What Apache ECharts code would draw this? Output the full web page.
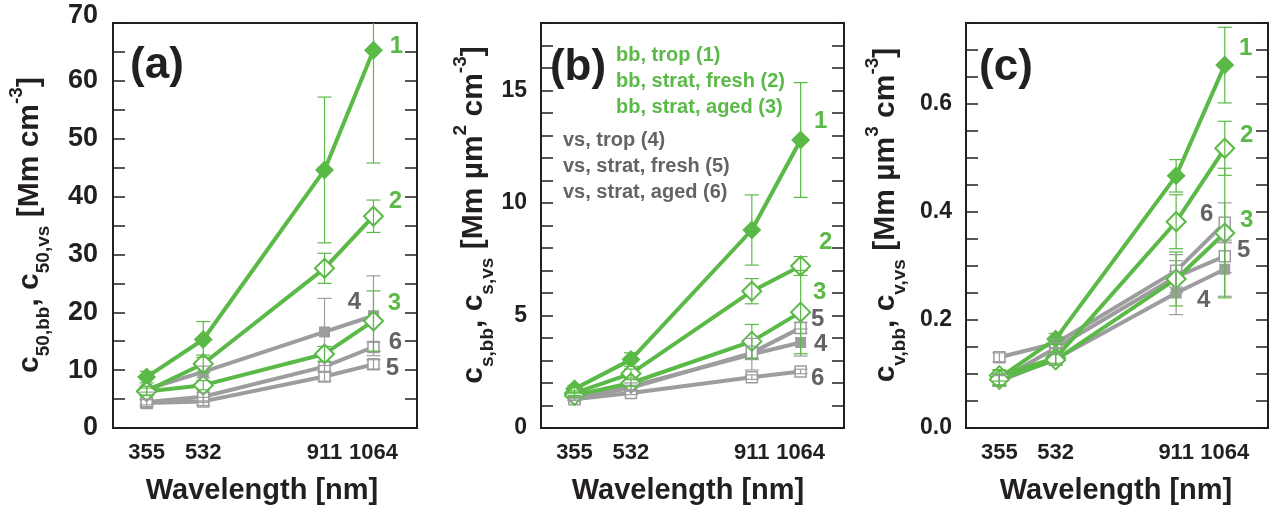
<!DOCTYPE html>
<html><head><meta charset="utf-8">
<script src="https://cdn.jsdelivr.net/npm/echarts@6/dist/echarts.min.js"></script>
<style>html,body{margin:0;padding:0;background:#fff}#chart{width:1275px;height:510px}</style>
</head><body><div id="chart"></div>
<script>
// ---------- DATA ----------
const wavelengths = [355, 532, 911, 1064];
const seriesNames = ['bb, trop (1)', 'bb, strat, fresh (2)', 'bb, strat, aged (3)',
                     'vs, trop (4)', 'vs, strat, fresh (5)', 'vs, strat, aged (6)'];
const seriesLabels = ['1', '2', '3', '4', '5', '6'];

// panel (a): c50  [Mm cm-3]
const a1 = [8.8, 15.3, 44.6, 65.3],  a1e = [1.0, 3.1, 12.6, 19.5];
const a2 = [6.4, 11.1, 27.6, 36.6],  a2e = [0.8, 1.5, 2.6, 2.8];
const a3 = [6.3, 7.4, 12.8, 18.5],   a3e = [0.6, 0.8, 1.3, 5.2];
const a4 = [6.7, 9.7, 16.6, 19.4],   a4e = [0.5, 1.0, 5.8, 6.9];
const a5 = [4.3, 4.6, 8.9, 11.0],    a5e = [0.6, 0.7, 0.8, 0.8];
const a6 = [4.5, 5.4, 10.6, 14.0],   a6e = [0.5, 0.7, 0.8, 0.8];

// panel (b): cs  [Mm um2 cm-3]
const b1 = [1.74, 3.04, 8.8, 12.8],  b1e = [0.15, 0.3, 1.56, 2.55];
const b2 = [1.55, 2.42, 6.08, 7.2],  b2e = [0.1, 0.2, 0.56, 0.42];
const b3 = [1.45, 2.0, 3.85, 5.15],  b3e = [0.1, 0.15, 0.75, 1.85];
const b4 = [1.3, 1.85, 3.28, 3.8],   b4e = [0.08, 0.15, 0.7, 0.6];
const b5 = [1.32, 1.78, 3.34, 4.45], b5e = [0.08, 0.12, 0.3, 0.25];
const b6 = [1.28, 1.56, 2.26, 2.51], b6e = [0.05, 0.08, 0.1, 0.1];

// panel (c): cv  [Mm um3 cm-3]
const c1 = [0.093, 0.165, 0.467, 0.672], c1e = [0.015, 0.01, 0.03, 0.07];
const c2 = [0.097, 0.13, 0.382, 0.518],  c2e = [0.01, 0.01, 0.05, 0.05];
const c3 = [0.09, 0.126, 0.276, 0.361],  c3e = [0.01, 0.01, 0.05, 0.12];
const c4 = [0.087, 0.128, 0.25, 0.294],  c4e = [0.01, 0.01, 0.04, 0.05];
const c5 = [0.089, 0.148, 0.28, 0.318],  c5e = [0.01, 0.01, 0.03, 0.03];
const c6 = [0.131, 0.157, 0.291, 0.38],  c6e = [0.008, 0.008, 0.03, 0.037];

// ---------- STYLE ----------
const FONT = '"Liberation Sans", Arial, Helvetica, sans-serif';
const GREEN = '#5bb947';
const GREY = '#9d9d9f';
const GREY_TXT = '#646466';
const BLACK = '#231f20';

const panels = [
  { grid: {left: 113, top: 23, width: 304, height: 405}, max: 70, step: 5,
    isMajor: v => v % 10 === 0, fmt: v => (v === 70 ? '{t|70}' : String(v)),
    labelSize: 27, labelMargin: 15,
    values: [a1, a2, a3, a4, a5, a6], errors: [a1e, a2e, a3e, a4e, a5e, a6e],
    offsets: [[23, -4], [22, -15], [21, -18], [-19, -13], [19, 4], [22, -5]],
    letter: '(a)', letterPos: [157, 66], xTitlePos: [262, 491], yTitlePos: [30, 225],
    yTitle: '{m|c}{s|50,bb}{m|, c}{s|50,vs}{m| [Mm cm}{p|-3}{m|]}' },
  { grid: {left: 541, top: 23, width: 303, height: 405}, max: 18, step: 1,
    isMajor: v => v % 5 === 0, fmt: v => String(v),
    labelSize: 23, labelMargin: 14,
    values: [b1, b2, b3, b4, b5, b6], errors: [b1e, b2e, b3e, b4e, b5e, b6e],
    offsets: [[20, -19], [25, -24], [19, -20], [20, 2], [17, -9], [17, 7]],
    letter: '(b)', letterPos: [578, 68], xTitlePos: [688, 491], yTitlePos: [474, 215],
    yTitle: '{m|c}{s|s,bb}{m|, c}{s|s,vs}{m| [Mm \u00b5m}{p|2}{m| cm}{p|-3}{m|]}' },
  { grid: {left: 966, top: 23, width: 302, height: 405}, max: 0.75, step: 0.05,
    isMajor: v => Math.abs(v * 5 - Math.round(v * 5)) < 1e-6, fmt: v => v.toFixed(1),
    labelSize: 23, labelMargin: 14,
    values: [c1, c2, c3, c4, c5, c6], errors: [c1e, c2e, c3e, c4e, c5e, c6e],
    offsets: [[21, -17], [22, -13], [22, -13], [-21, 31], [19, -6], [-18, -8]],
    letter: '(c)', letterPos: [1006, 68], xTitlePos: [1116, 491], yTitlePos: [886, 215],
    yTitle: '{m|c}{s|v,bb}{m|, c}{s|v,vs}{m| [Mm \u00b5m}{p|3}{m| cm}{p|-3}{m|]}' }
];

const grids = [], xAxes = [], yAxes = [], series = [], graphics = [];
const drawOrder = [3, 4, 5, 0, 1, 2];

panels.forEach((p, pi) => {
  grids.push(Object.assign({show: true, borderColor: BLACK, borderWidth: 2,
    backgroundColor: 'transparent', containLabel: false, outerBoundsMode: 'none'}, p.grid));

  xAxes.push({
    gridIndex: pi, type: 'value', min: 250, max: 1200,
    axisLine: {show: true, lineStyle: {color: BLACK, width: 2}},
    axisTick: {show: false}, splitLine: {show: false},
    axisLabel: {customValues: wavelengths, formatter: v => String(v), fontSize: 22,
      fontWeight: 'bold', fontFamily: FONT, color: BLACK, margin: 14}
  });

  const yBase = {
    gridIndex: pi, type: 'value', min: 0, max: p.max, interval: p.step,
    axisLine: {show: true, lineStyle: {color: BLACK, width: 2}},
    axisTick: {show: true, inside: true, length: 12, lineStyle: {color: BLACK, width: 1.5}},
    splitLine: {show: false}
  };
  yAxes.push(Object.assign({}, yBase, {
    position: 'left',
    axisLabel: {show: true, margin: p.labelMargin, fontSize: p.labelSize, fontWeight: 'bold',
      fontFamily: FONT, color: BLACK, showMaxLabel: true,
      formatter: v => (p.isMajor(v) ? p.fmt(v) : ''),
      rich: {t: {fontSize: p.labelSize, fontWeight: 'bold', fontFamily: FONT, color: BLACK,
                 padding: [0, 0, 14, 0]}}}
  }));
  yAxes.push(Object.assign({}, yBase, {position: 'right', axisLabel: {show: false}}));

  drawOrder.forEach(k => {
    const isGreen = k < 3;
    const col = isGreen ? GREEN : GREY;
    const filled = (k === 0 || k === 3);
    const vals = p.values[k], errs = p.errors[k];
    series.push({
      type: 'line', name: seriesNames[k], xAxisIndex: pi, yAxisIndex: 2 * pi,
      data: wavelengths.map((w, j) => [w, vals[j]]),
      symbol: isGreen ? 'diamond' : 'rect',
      symbolSize: isGreen ? 19 : 11,
      showAllSymbol: true,
      lineStyle: {color: col, width: 4},
      itemStyle: {color: filled ? col : '#ffffff', borderColor: col,
                  borderWidth: filled ? 0 : (isGreen ? 2 : 1.5)},
      z: isGreen ? 3 : 2,
      endLabel: {show: true, formatter: seriesLabels[k], color: isGreen ? GREEN : GREY_TXT,
        fontSize: 24, fontWeight: 'bold', fontFamily: FONT, align: 'center',
        verticalAlign: 'middle', distance: 0, offset: p.offsets[k]},
      emphasis: {disabled: true}, silent: true, animation: false
    });
    series.push({
      type: 'custom', xAxisIndex: pi, yAxisIndex: 2 * pi, clip: true, z: 4, silent: true,
      animation: false,
      data: wavelengths.map((w, j) => [w, vals[j] - errs[j], vals[j] + errs[j]]),
      encode: {x: 0, y: [1, 2]},
      renderItem: (params, api) => {
        const lo = api.coord([api.value(0), api.value(1)]);
        const hi = api.coord([api.value(0), api.value(2)]);
        const w = 7;
        const st = {stroke: col, lineWidth: 1.2};
        return {type: 'group', children: [
          {type: 'line', shape: {x1: lo[0], y1: lo[1], x2: hi[0], y2: hi[1]}, style: st},
          {type: 'line', shape: {x1: lo[0] - w, y1: lo[1], x2: lo[0] + w, y2: lo[1]}, style: st},
          {type: 'line', shape: {x1: hi[0] - w, y1: hi[1], x2: hi[0] + w, y2: hi[1]}, style: st}
        ]};
      }
    });
  });

  // panel letter
  graphics.push({type: 'text', x: p.letterPos[0], y: p.letterPos[1], z: 10,
    style: {text: p.letter, fill: BLACK, font: 'bold 44px ' + FONT, align: 'center', verticalAlign: 'middle'}});
  // x title
  graphics.push({type: 'text', x: p.xTitlePos[0], y: p.xTitlePos[1], z: 10,
    style: {text: 'Wavelength [nm]', fill: BLACK, font: 'bold 29px ' + FONT, align: 'center', verticalAlign: 'middle'}});
  // y title (rotated, rich text with sub/superscripts)
  graphics.push({type: 'text', x: p.yTitlePos[0], y: p.yTitlePos[1], rotation: Math.PI / 2, z: 10,
    style: {text: p.yTitle, fill: BLACK, align: 'center', verticalAlign: 'middle',
      rich: {
        m: {fontSize: 30, fontWeight: 'bold', fontFamily: FONT, lineHeight: 46, fill: BLACK, color: BLACK},
        s: {fontSize: 19, fontWeight: 'bold', fontFamily: FONT, lineHeight: 19, verticalAlign: 'bottom', fill: BLACK, color: BLACK},
        p: {fontSize: 19, fontWeight: 'bold', fontFamily: FONT, lineHeight: 19, verticalAlign: 'top', fill: BLACK, color: BLACK}
      }}});
});

// legend text in panel (b)
const legendPos = [[616, 55], [616, 81], [616, 107], [563, 140], [563, 166], [563, 192]];
seriesNames.forEach((n, k) => {
  graphics.push({type: 'text', x: legendPos[k][0], y: legendPos[k][1], z: 10,
    style: {text: n, fill: k < 3 ? GREEN : GREY_TXT, font: 'bold 20px ' + FONT,
            align: 'left', verticalAlign: 'middle'}});
});

const chart = echarts.init(document.getElementById('chart'));
chart.setOption({
  animation: false,
  backgroundColor: '#ffffff',
  grid: grids, xAxis: xAxes, yAxis: yAxes, series: series, graphic: graphics
});
</script></body></html>
